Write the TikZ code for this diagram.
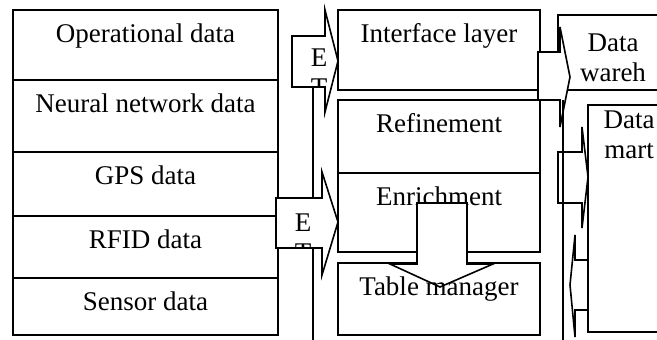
\documentclass[tikz,border=0pt]{standalone}
\usepackage{fontspec}
\setmainfont{Liberation Serif}
\usetikzlibrary{positioning}

\begin{document}
\begin{tikzpicture}[x=0.5pt,y=-0.5pt,
box/.style={draw,line width=0.8pt,inner sep=0pt,outer sep=0pt,anchor=north west},
lbl/.style={inner sep=0pt,text height=0.7em,font=\fontsize{13.5}{15}\selectfont},
twolbl/.style={inner sep=0pt,anchor=north,align=center,font=\fontsize{13.5}{15}\selectfont},
blockarrow/.style={draw,line width=0.8pt,fill=white,line join=miter}]
\useasboundingbox (0,0) rectangle (657,340);
\clip (0,0) rectangle (657,340);

% data sources
\node[box,minimum width=132.5pt,minimum height=35pt] (op) at (13,10) {};
\node[box,minimum width=132.5pt,minimum height=36pt,below=0pt of op] (neural) {};
\node[box,minimum width=132.5pt,minimum height=32pt,below=0pt of neural] (gps) {};
\node[box,minimum width=132.5pt,minimum height=31pt,below=0pt of gps] (rfid) {};
\node[box,minimum width=132.5pt,minimum height=28.5pt,below=0pt of rfid] (sensor) {};
\node[lbl,below=9pt of op.north] {Operational data};
\node[lbl,below=9pt of neural.north] {Neural network data};
\node[lbl,below=9pt of gps.north] {GPS data};
\node[lbl,below=9pt of rfid.north] {RFID data};
\node[lbl,below=9pt of sensor.north] {Sensor data};

% middle layers
\node[box,minimum width=101pt,minimum height=40pt] (intf) at (338,10) {};
\node[box,minimum width=101pt,minimum height=36.5pt] (refine) at (338,100) {};
\node[box,minimum width=101pt,minimum height=39.5pt,below=0pt of refine] (enrich) {};
\node[box,minimum width=101pt,minimum height=36pt,below=5.5pt of enrich] (table) {};
\node[lbl,below=9pt of intf.north] {Interface layer};
\node[lbl,below=9pt of refine.north] {Refinement};
\node[lbl,below=9pt of enrich.north] {Enrichment};

% warehouse and mart
\node[box,minimum width=71pt,minimum height=37.5pt] (wareh) at (558,15) {};
\node[box,minimum width=56pt,minimum height=113.5pt] (mart) at (588,105) {};
\node[twolbl] (warehtxt) at (613,33) {Data\\wareh};
\node[twolbl] (marttxt) at (629,110) {Data\\mart};

% ETL arrows
\draw[line width=0.8pt] (313,87) -- (313,340);
\draw[blockarrow] (292,36) -- (325,36) -- (325,10) -- (338,61) -- (325,112) -- (325,87) -- (292,87) -- cycle;
\begin{scope}
\clip (292,36) -- (325,36) -- (325,10) -- (338,61) -- (325,112) -- (325,87) -- (292,87) -- cycle;
\node[twolbl] (etl1) at (319,48) {E\\T};
\end{scope}
\draw[blockarrow] (276,198) -- (322,198) -- (322,172) -- (338,222) -- (322,275) -- (322,248) -- (276,248) -- cycle;
\begin{scope}
\clip (276,198) -- (322,198) -- (322,172) -- (338,222) -- (322,275) -- (322,248) -- (276,248) -- cycle;
\node[twolbl] (etl2) at (303,213) {E\\T};
\end{scope}

% right side arrows
\draw[blockarrow] (538,52) -- (560,52) -- (560,27) -- (570,77) -- (560,127) -- (560,100) -- (538,100) -- cycle;
\draw[blockarrow] (558,152) -- (582,152) -- (582,127) -- (588,177) -- (582,228) -- (582,203) -- (558,203) -- cycle;
\draw[line width=0.8pt] (563,100) -- (563,340);
\draw[blockarrow] (588,260) -- (575,260) -- (575,235) -- (570,285) -- (575,337) -- (575,310) -- (588,310) -- cycle;

% down arrow
\draw[blockarrow] (417,203) -- (467,203) -- (467,264) -- (493,264) -- (440,287) -- (390,264) -- (417,264) -- cycle;
\node[lbl,below=9pt of table.north] {Table manager};
\end{tikzpicture}
\end{document}
